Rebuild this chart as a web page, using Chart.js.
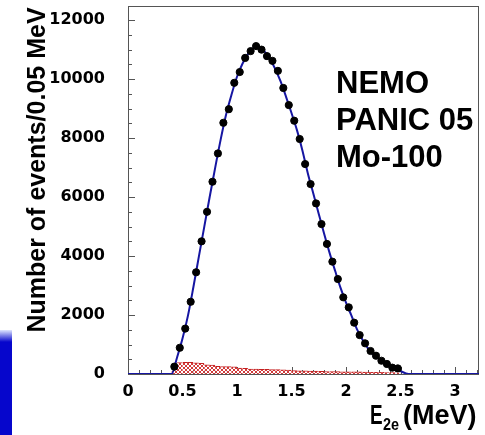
<!DOCTYPE html>
<html>
<head>
<meta charset="utf-8">
<script src="https://cdn.jsdelivr.net/npm/chart.js@4.4.0/dist/chart.umd.min.js"></script>
<style>
html,body{margin:0;padding:0;background:#fff;}
</style>
</head>
<body>
<canvas id="nemo" width="485" height="435"></canvas>
<script>
// bin centres (MeV), 0.05 MeV bins
var binE = [0.425,0.475,0.525,0.575,0.625,0.675,0.725,0.775,0.825,0.875,
	0.925,0.975,1.025,1.075,1.125,1.175,1.225,1.275,1.325,1.375,
	1.425,1.475,1.525,1.575,1.625,1.675,1.725,1.775,1.825,1.875,
	1.925,1.975,2.025,2.075,2.125,2.175,2.225,2.275,2.325,2.375,
	2.425,2.475];
// data points
var events = [250,890,1540,2450,3450,4500,5500,6520,7480,8520,
	8980,9875,10240,10720,10950,11120,11000,10780,10620,10280,
	9700,9120,8590,7970,7120,6440,5785,5085,4410,3810,
	3220,2600,2260,1740,1320,1040,780,620,450,340,
	215,190];
// hatched background histogram
var bkgEvents = [250,390,400,395,380,360,310,300,260,255,
	250,240,200,195,170,165,160,160,150,150,
	140,135,115,110,110,100,100,90,85,85,
	80,75,75,70,70,65,60,60,55,50,
	45,40];
// fitted curve (blue)
var fitE = [0,0.4,0.45,0.5,0.55,0.6,0.65,0.7,0.75,0.8,0.85,0.9,0.95,1.0,1.05,1.1,1.15,1.2,1.25,1.3,
	1.35,1.4,1.45,1.5,1.55,1.6,1.65,1.7,1.75,1.8,1.85,1.9,1.95,2.0,2.05,2.1,2.15,2.2,2.25,2.3,
	2.35,2.4,2.45,2.5,2.55,2.6,3.22];
var fitEvents = [0,0,560,1200,1980,2950,3980,5000,6020,7000,7950,8800,9480,10080,10520,10850,11050,11080,10950,10700,
	10350,9920,9400,8850,8270,7580,6800,6120,5430,4750,4100,3500,2920,2420,1980,1520,1170,880,660,520,
	390,270,190,100,20,0,0];

var yMinorStep = 500, yLabelStep = 2000, yTop = 12000;
var xMinorStep = 0.1, xLabelStep = 0.5, xTop = 3.2;
var yTitle = "Number of events/0.05 MeV";
var noteLines = ["NEMO","PANIC 05","Mo-100"];

var canvas = document.getElementById("nemo");
var ctx = canvas.getContext("2d");

function makeHatch(){
	var c = document.createElement("canvas");
	c.width = 4; c.height = 4;
	var g = c.getContext("2d");
	g.fillStyle = "#fff";
	g.fillRect(0,0,4,4);
	g.strokeStyle = "#d23a3a";
	g.lineWidth = 1;
	g.beginPath();
	g.moveTo(0,0); g.lineTo(4,4);
	g.moveTo(4,0); g.lineTo(0,4);
	g.stroke();
	return ctx.createPattern(c,"repeat");
}

var points=[], bkg=[], fit=[];
for(var i=0;i<binE.length;i++){
	points.push({x:binE[i], y:events[i]});
	bkg.push({x:binE[i], y:bkgEvents[i]});
}
for(var j=0;j<fitE.length;j++){
	fit.push({x:fitE[j], y:fitEvents[j]});
}

function isMultiple(v, step){
	var r = v/step;
	return Math.abs(r-Math.round(r)) < 1e-6;
}
function tickList(step, top){
	var out = [];
	for(var k=0; k*step <= top+1e-9; k++){
		out.push({value: Math.round(k*step*1000)/1000});
	}
	return out;
}

var decor = {
	id:"decor",
	beforeDraw:function(chart){
		var c = chart.ctx;
		// bit of the slide showing at bottom left
		c.save();
		var grad = c.createLinearGradient(0,330,0,342);
		grad.addColorStop(0,"#dfe6ff");
		grad.addColorStop(1,"#0606cc");
		c.fillStyle = grad;
		c.fillRect(0,330,12,105);
		c.restore();
	},
	beforeDatasetsDraw:function(chart){
		var c = chart.ctx, a = chart.chartArea;
		var xs = chart.scales.x, ys = chart.scales.y;
		c.save();
		c.strokeStyle = "#555";
		c.lineWidth = 1;
		c.beginPath();
		ys.ticks.forEach(function(t){
			var y = Math.round(ys.getPixelForValue(t.value))+0.5;
			var len = isMultiple(t.value, yLabelStep) ? 7 : 4;
			c.moveTo(a.left, y); c.lineTo(a.left+len, y);
		});
		xs.ticks.forEach(function(t){
			var x = Math.round(xs.getPixelForValue(t.value))+0.5;
			var len = isMultiple(t.value, xLabelStep) ? 7 : 4;
			c.moveTo(x, a.bottom); c.lineTo(x, a.bottom-len);
		});
		c.stroke();
		c.strokeStyle = "#555";
		c.strokeRect(a.left+0.5, a.top+0.5, a.right-a.left-1, a.bottom-a.top);
		c.restore();
	},
	afterDraw:function(chart){
		var c = chart.ctx;
		c.save();
		c.fillStyle = "#000";
		// y title
		c.translate(45,170);
		c.rotate(-Math.PI/2);
		c.font = "bold 25px 'Liberation Sans', Arial, sans-serif";
		c.textAlign = "center";
		c.textBaseline = "alphabetic";
		c.fillText(yTitle,0,0);
		c.restore();

		c.save();
		c.fillStyle = "#000";
		c.textBaseline = "alphabetic";
		c.textAlign = "left";
		// x title, narrow E with subscript
		c.save();
		c.translate(370,424);
		c.scale(0.7,1);
		c.font = "bold 27px 'Liberation Sans', Arial, sans-serif";
		c.fillText("E",0,0);
		c.restore();
		c.save();
		c.translate(383,430);
		c.scale(0.9,1);
		c.font = "bold 16px 'Liberation Sans', Arial, sans-serif";
		c.fillText("2e",0,0);
		c.restore();
		c.font = "bold 27px 'Liberation Sans', Arial, sans-serif";
		c.fillText("(MeV)",403,424);
		// note
		c.font = "bold 31px 'Liberation Sans', Arial, sans-serif";
		var base = [93,130,167];
		for(var k=0;k<noteLines.length;k++){
			c.fillText(noteLines[k],336,base[k]);
		}
		c.restore();
	}
};

var chart = new Chart(ctx,{
	type:"bar",
	data:{
		datasets:[{
			type:"scatter",
			data:points,
			pointRadius:3.6,
			pointHoverRadius:3.6,
			backgroundColor:"#000",
			borderColor:"#000",
			order:0
		},{
			type:"line",
			data:fit,
			borderColor:"#1616a2",
			borderWidth:2,
			pointRadius:0,
			fill:false,
			cubicInterpolationMode:"monotone",
			order:1
		},{
			type:"bar",
			data:bkg,
			backgroundColor:makeHatch(),
			borderColor:"#c42020",
			borderWidth:{top:1,left:0,right:0,bottom:0},
			borderSkipped:"bottom",
			barPercentage:1,
			categoryPercentage:1,
			order:2
		}]
	},
	options:{
		responsive:false,
		animation:false,
		devicePixelRatio:1,
		layout:{padding:{top:6,right:6,left:0,bottom:0}},
		plugins:{legend:{display:false},tooltip:{enabled:false}},
		scales:{
			x:{
				type:"linear",
				min:0,
				max:3.22,
				offset:false,
				grid:{display:false,offset:false},
				border:{display:false},
				afterBuildTicks:function(s){ s.ticks = tickList(xMinorStep, xTop); },
				ticks:{
					autoSkip:false,
					maxRotation:0,
					padding:0,
					color:"#000",
					font:{family:"'DejaVu Sans'",size:16,weight:"bold"},
					callback:function(v){
						return isMultiple(v,xLabelStep) ? String(Math.round(v*2)/2) : "";
					}
				},
				afterFit:function(s){ s.height = 61; s.paddingLeft = 0; s.paddingRight = 0; }
			},
			y:{
				min:0,
				max:12480,
				grid:{display:false},
				border:{display:false},
				afterBuildTicks:function(s){ s.ticks = tickList(yMinorStep, yTop); },
				ticks:{
					autoSkip:false,
					padding:15,
					color:"#000",
					font:{family:"'DejaVu Sans'",size:16,weight:"bold"},
					callback:function(v){
						return isMultiple(v,yLabelStep) ? String(v) : "";
					}
				},
				afterFit:function(s){ s.width = 128; s.paddingTop = 0; s.paddingBottom = 0; }
			}
		}
	},
	plugins:[decor]
});
</script>
</body>
</html>
